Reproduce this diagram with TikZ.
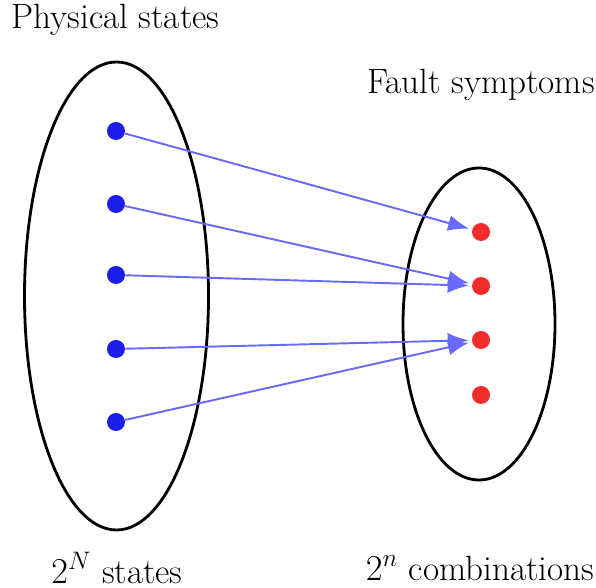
\documentclass[tikz,border=0pt]{standalone}
\usepackage{tikz}
\usetikzlibrary{arrows.meta, positioning, shapes.geometric}
\definecolor{stateblue}{RGB}{30, 30, 235}
\definecolor{arrowblue}{RGB}{105, 105, 250}
\definecolor{faultred}{RGB}{240, 45, 45}

\begin{document}
\begin{tikzpicture}[font=\fontsize{20}{24}\selectfont]
        \useasboundingbox (0,0) rectangle (11.92,11.76);
        \node[ellipse, draw, line width=1.6pt, minimum width=3.68cm, minimum height=9.36cm] (phys) at (2.33,5.84) {};
        \node[ellipse, draw, line width=1.6pt, minimum width=3.04cm, minimum height=6.24cm] (fault) at (9.58,5.28) {};
        \node (physlbl) at (2.31,11.36) {Physical states};
        \node (faultlbl) at (9.62,10.06) {Fault symptoms};
        \node (physcnt) at (2.34,0.4) {$2^N$ states};
        \node (faultcnt) at (9.6,0.4) {$2^n$ combinations};
        \foreach \i/\y in {1/9.14, 2/7.68, 3/6.26, 4/4.78, 5/3.32}
        {
            \node[circle, fill=stateblue, inner sep=0pt, minimum size=0.36cm] (s\i) at (2.32,\y) {};
        }
        \foreach \i/\y in {1/7.12, 2/6.04, 3/4.96, 4/3.86}
        {
            \node[circle, fill=faultred, inner sep=0pt, minimum size=0.36cm] (f\i) at (9.62,\y) {};
        }
        \foreach \a/\b in {1/1, 2/2, 3/2, 4/3, 5/3}
        {
            \draw[arrowblue, line width=1.1pt, -{Latex[length=0.42cm, width=0.32cm]}, shorten >=0.06cm] (s\a) -- (f\b);
        }
    \end{tikzpicture}
\end{document}
